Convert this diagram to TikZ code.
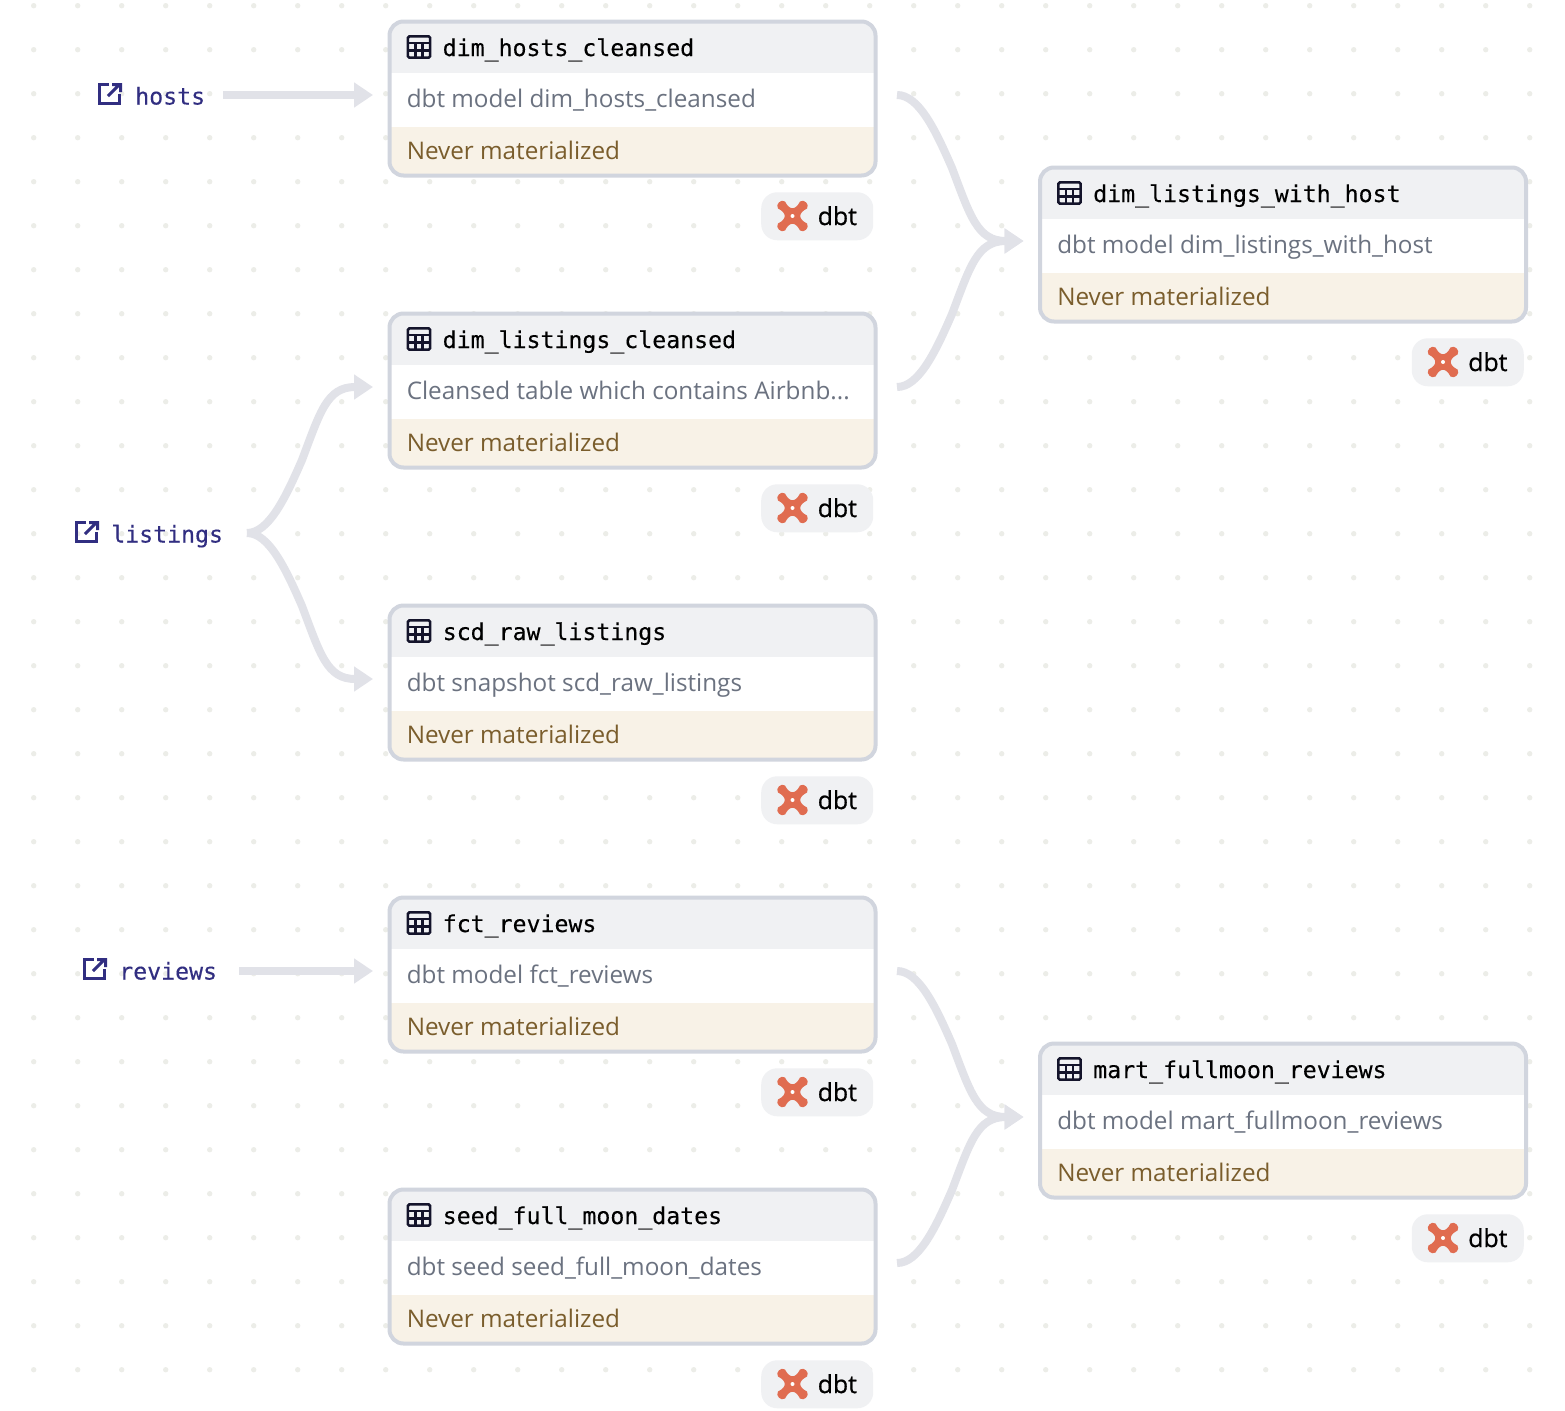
\documentclass[tikz,border=0pt]{standalone}
\usepackage{fontspec}
\setmainfont{Open Sans}
\newfontfamily\monofont[FakeBold=0.25]{DejaVu Sans Mono}
\newfontfamily\tagfont[FakeBold=0.7]{Open Sans}
\usetikzlibrary{arrows.meta}
\definecolor{cedge}{RGB}{225,226,232}
\definecolor{cborder}{RGB}{209,213,222}
\definecolor{chead}{RGB}{240,241,243}
\definecolor{cfoot}{RGB}{248,242,231}
\definecolor{cdesc}{RGB}{107,114,128}
\definecolor{cstate}{RGB}{122,93,44}
\definecolor{cink}{RGB}{20,20,43}
\definecolor{clink}{RGB}{49,46,129}
\definecolor{cdot}{RGB}{236,237,232}
\definecolor{cdbt}{RGB}{224,108,80}
\tikzset{
  cardbox/.style={draw=cborder,line width=3pt,minimum width=364.5pt,minimum height=115.5pt,
    rounded corners=10.5pt,inner sep=0pt,anchor=north west},
  titletext/.style={anchor=base west,inner sep=0pt,text=black,font=\monofont\fontsize{17.4}{20}\selectfont},
  desctext/.style={anchor=base west,inner sep=0pt,text=cdesc,font=\fontsize{18.2}{20}\selectfont},
  statetext/.style={anchor=base west,inner sep=0pt,text=cstate,font=\fontsize{18.2}{20}\selectfont},
  sourcetext/.style={anchor=base west,inner sep=0pt,text=clink,font=\monofont\fontsize{17.4}{20}\selectfont},
  tagbox/.style={fill=chead,rounded corners=12pt,minimum width=84pt,minimum height=36pt,inner sep=0pt,anchor=north east},
  tagtext/.style={anchor=base west,inner sep=0pt,text=black,font=\tagfont\fontsize{18.6}{20}\selectfont},
  edgeline/.style={draw=cedge,line width=6pt,-{Triangle[length=14.25pt,width=18pt]}},
  pics/tableicon/.style={code={
    \path[draw=cink,line width=1.9pt,rounded corners=1.2pt] (1.3,1.3) rectangle (23.7,22.7);
    \path[draw=cink,line width=1.9pt] (1.3,8) -- (23.7,8) (1.3,15.3) -- (23.7,15.3) (8.8,8) -- (8.8,22.7) (16.2,8) -- (16.2,22.7);
  }},
  pics/linkicon/.style={code={
    \path[draw=clink,line width=2.25pt] (11,1.5) -- (1.5,1.5) -- (1.5,20.5) -- (21,20.5) -- (21,11);
    \path[draw=clink,line width=2.25pt] (10,13) -- (21,2) (14,1.5) -- (22.5,1.5) -- (22.5,9);
  }},
  pics/dbtlogo/.style={code={
    \path[fill=cdbt] (-7.5,-14.5) .. controls (-3,-5.5) and (3,-5.5) .. (7.5,-14.5)
      .. controls (11.5,-17.5) and (17.5,-11.5) .. (14.5,-7.5)
      .. controls (5.5,-3) and (5.5,3) .. (14.5,7.5)
      .. controls (17.5,11.5) and (11.5,17.5) .. (7.5,14.5)
      .. controls (3,5.5) and (-3,5.5) .. (-7.5,14.5)
      .. controls (-11.5,17.5) and (-17.5,11.5) .. (-14.5,7.5)
      .. controls (-5.5,3) and (-5.5,-3) .. (-14.5,-7.5)
      .. controls (-17.5,-11.5) and (-11.5,-17.5) .. (-7.5,-14.5) -- cycle;
    \path[fill=white] (0,0) circle (2);
  }}
}
% name, left, top, title, description
\newcommand{\modelcard}[5]{
  \path[fill=white,rounded corners=10.5pt] (#2+2,#3+1.5) rectangle (#2+488,#3+155.5);
  \begin{scope}
    \clip[rounded corners=10.5pt] (#2+2,#3+1.5) rectangle (#2+488,#3+155.5);
    \path[fill=chead] (#2,#3) rectangle (#2+490,#3+53);
    \path[fill=cfoot] (#2,#3+106.5) rectangle (#2+490,#3+160);
  \end{scope}
  \node[cardbox] (#1) at (#2,#3-0.5) {};
  \pic[transform shape] at (#2+19,#3+15) {tableicon};
  \node[titletext] (#1-title) at (#2+55,#3+36) {#4};
  \node[desctext] (#1-desc) at (#2+19,#3+87) {#5};
  \node[statetext] (#1-state) at (#2+19,#3+139) {Never materialized};
  \node[tagbox] (#1-tag) at (#2+486,#3+172) {};
  \pic[transform shape] at (#2+405,#3+196) {dbtlogo};
  \node[tagtext] (#1-dbt) at (#2+430,#3+205) {dbt};
  \coordinate (#1-in) at (#2-14.5,#3+75);
  \coordinate (#1-out) at (#2+509.5,#3+75);
}
% from, to, direction of the bend (1 down, -1 up)
\newcommand{\bendedge}[3]{
  \path[edgeline] (#1) .. controls +(21.7,0) and +(-16.7,-38.3*#3) .. ++(55,73*#3)
    .. controls +(18.3,48.4*#3) and +(-46,0) .. (#2);
}
\begin{document}
\begin{tikzpicture}[y=0.75pt,x=0.75pt,yscale=-1]
  \path[fill=white,use as bounding box] (0,0) rectangle (1565,1410);
  \foreach \i in {0,...,34} \foreach \j in {0,...,31}
    \path[fill=cdot] (33.7+44*\i,5.7+44*\j) circle (2.7);

  \modelcard{hostscard}{387.5}{20}{dim\_hosts\_cleansed}{dbt model dim\_hosts\_cleansed}
  \modelcard{listingscard}{387.5}{312}{dim\_listings\_cleansed}{Cleansed table which contains Airbnb...}
  \modelcard{scdcard}{387.5}{604}{scd\_raw\_listings}{dbt snapshot scd\_raw\_listings}
  \modelcard{reviewscard}{387.5}{896}{fct\_reviews}{dbt model fct\_reviews}
  \modelcard{mooncard}{387.5}{1188}{seed\_full\_moon\_dates}{dbt seed seed\_full\_moon\_dates}
  \modelcard{hostjoin}{1038}{166}{dim\_listings\_with\_host}{dbt model dim\_listings\_with\_host}
  \modelcard{fullmoon}{1038}{1042}{mart\_fullmoon\_reviews}{dbt model mart\_fullmoon\_reviews}

  \pic[transform shape] at (98,83) {linkicon};
  \node[sourcetext] (hosts) at (135,104.5) {hosts};
  \coordinate (hosts-out) at (223,95);
  \pic[transform shape] at (75,521) {linkicon};
  \node[sourcetext] (listings) at (111,542.5) {listings};
  \coordinate (listings-out) at (247,533);
  \pic[transform shape] at (83,958) {linkicon};
  \node[sourcetext] (reviews) at (119,979.5) {reviews};
  \coordinate (reviews-out) at (239,971);

  \path[edgeline] (hosts-out) -- (hostscard-in);
  \path[edgeline] (reviews-out) -- (reviewscard-in);
  \bendedge{listings-out}{listingscard-in}{-1}
  \bendedge{listings-out}{scdcard-in}{1}
  \bendedge{hostscard-out}{hostjoin-in}{1}
  \bendedge{listingscard-out}{hostjoin-in}{-1}
  \bendedge{reviewscard-out}{fullmoon-in}{1}
  \bendedge{mooncard-out}{fullmoon-in}{-1}
\end{tikzpicture}
\end{document}
